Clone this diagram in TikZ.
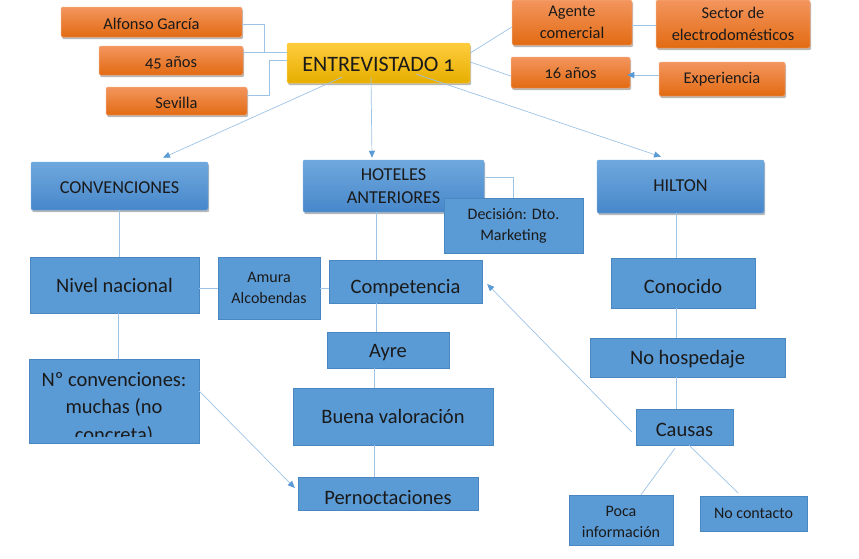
\documentclass[tikz,border=0pt]{standalone}
\usepackage{fontspec}
\setmainfont{Carlito}[Numbers=OldStyle]
\usetikzlibrary{arrows.meta,shadows,calc}
\definecolor{lnblue}{HTML}{9DC3E6}
\definecolor{arblue}{HTML}{5B9BD5}
\definecolor{flatblue}{HTML}{5B9BD5}
\definecolor{flatedge}{HTML}{4A86C0}
\definecolor{gbtop}{HTML}{6FA8DD}
\definecolor{gbbot}{HTML}{4787CA}
\definecolor{ortop}{HTML}{F3955E}
\definecolor{ormid}{HTML}{F47B2C}
\definecolor{orbot}{HTML}{E26B12}
\definecolor{oredge}{HTML}{F2A67A}
\definecolor{yetop}{HTML}{FFCC3D}
\definecolor{yemid}{HTML}{FFC000}
\definecolor{yebot}{HTML}{E6AE00}
\definecolor{txt}{HTML}{1A1A1A}
\newcommand\lowr[2]{\raisebox{-#1}[\height][\depth]{#2}}
\tikzset{
  base/.style={rectangle, inner sep=0pt, align=center, text=txt},
  shad/.style={drop shadow={shadow xshift=1.2pt, shadow yshift=-2.2pt, fill=black, opacity=0.28}},
  orbox/.style={base, shad, rounded corners=1.5pt, top color=ortop, middle color=ormid, bottom color=orbot, draw=oredge, line width=0.5pt, font=\fontsize{16.4}{22}\selectfont},
  yebox/.style={base, shad, rounded corners=1.5pt, top color=yetop, middle color=yemid, bottom color=yebot, draw=yetop, line width=0.5pt, font=\fontsize{22}{26}\selectfont},
  gbbox/.style={base, shad, rounded corners=2pt, top color=gbtop, bottom color=gbbot, draw=gbtop, line width=0.5pt, font=\fontsize{18.2}{23}\selectfont},
  flbox/.style={base, fill=flatblue, draw=flatedge, line width=0.4pt, font=\fontsize{20.5}{26}\selectfont},
  smbox/.style={flbox, font=\fontsize{16}{21}\selectfont},
  conn/.style={draw=lnblue, line width=0.7pt},
  arr/.style={conn, -{Triangle[length=7pt,width=6pt,color=arblue]}},
}
\begin{document}
\begin{tikzpicture}[x=1pt,y=-1pt]
\useasboundingbox (0,0) rectangle (859,558);
% orange / yellow
\node[orbox, minimum width=181, minimum height=30] (alf) at (151.5,22) {\lowr{2pt}{Alfonso García}};
\node[orbox, minimum width=144, minimum height=29] (a45) at (171,60.5) {\lowr{2pt}{45 años}};
\node[orbox, minimum width=141, minimum height=28] (sev) at (176.5,101) {\lowr{2pt}{Sevilla}};
\node[yebox, minimum width=183, minimum height=40] (ent) at (378.5,63) {\lowr{1pt}{ENTREVISTADO 1}};
\node[orbox, minimum width=120, minimum height=45] (age) at (572,22.5) {Agente\\comercial};
\node[orbox, minimum width=154, minimum height=48] (sec) at (733,24) {Sector de\\electrodomésticos};
\node[orbox, minimum width=119, minimum height=31] (a16) at (570.5,72.5) {\lowr{1pt}{16 años}};
\node[orbox, minimum width=126, minimum height=34] (exp) at (722,79) {Experiencia};
% blue headings
\node[gbbox, minimum width=177, minimum height=48] (conv) at (119.5,186) {\lowr{2pt}{CONVENCIONES}};
\node[gbbox, minimum width=181, minimum height=52] (hot) at (393.5,186) {HOTELES\\ANTERIORES};
\node[smbox, minimum width=139, minimum height=55] (dec) at (513.5,225.5) {Decisión: Dto.\\Marketing};
\node[gbbox, minimum width=167, minimum height=53] (hil) at (680.5,186.5) {\lowr{-1pt}{HILTON}};
% flat blue
\node[flbox, minimum width=169, minimum height=56] (niv) at (114.5,285) {Nivel nacional};
\node[smbox, minimum width=102, minimum height=62] (amu) at (269,288) {Amura\\Alcobendas};
\node[flbox, minimum width=153, minimum height=43] (com) at (405.5,281.5) {\lowr{7pt}{Competencia}};
\node[flbox, minimum width=144, minimum height=50] (con) at (683,283) {\lowr{3pt}{Conocido}};
\node[flbox, minimum width=195, minimum height=39] (noh) at (687.5,357.5) {\lowr{2pt}{No hospedaje}};
\node[flbox, minimum width=170, minimum height=84] (nco) at (114,401) {};
\begin{scope}
\clip (nco.north west) rectangle ([yshift=7pt]nco.south east);
\node[base, anchor=north, font=\fontsize{20.5}{27.6}\selectfont] (ncot) at ([yshift=-13pt]nco.north) {Nº convenciones:\\muchas (no\\concreta)};
\end{scope}
\node[flbox, minimum width=122, minimum height=36] (ayr) at (388,350) {\lowr{3pt}{Ayre}};
\node[flbox, minimum width=200, minimum height=57] (bue) at (393,416.5) {Buena valoración};
\node[flbox, minimum width=180, minimum height=33] (per) at (388,493.5) {\lowr{4pt}{Pernoctaciones}};
\node[flbox, minimum width=97, minimum height=36] (cau) at (684.5,427) {\lowr{2.5pt}{Causas}};
\node[smbox, minimum width=104, minimum height=50] (poc) at (621,520) {\lowr{3pt}{\begin{tabular}{@{}c@{}}Poca\\información\end{tabular}}};
\node[smbox, minimum width=107, minimum height=35] (noc) at (753.5,513.5) {No contacto};
% connectors top
\draw[conn] ([yshift=-2pt]alf.east) -- ++(22,0) |- ([yshift=11pt]ent.west);
\draw[conn] ([yshift=8.5pt]a45.east) -- ([yshift=11pt]ent.west);
\draw[conn] ([yshift=6pt]sev.east) -- ++(22,0) |- ([yshift=3pt]ent.west);
\draw[conn] ([yshift=10pt]ent.east) -- ([yshift=-4.5pt]age.west);
\draw[conn] ([yshift=1pt]ent.east) -- ([yshift=-3.5pt]a16.west);
\draw[conn] ([yshift=-2.5pt]age.east) -- ([yshift=-1pt]sec.west);
\draw[arr] ([yshift=4pt]exp.west) -- ([yshift=-2.5pt,xshift=-3pt]a16.east);
\draw[arr] ([xshift=-36.5pt,yshift=6pt]ent.south) -- ([xshift=43.5pt,yshift=4pt]conv.north);
\draw[arr] ([xshift=-7.5pt,yshift=6pt]ent.south) -- ([xshift=-21.5pt,yshift=2pt]hot.north);
\draw[arr] ([xshift=38pt,yshift=9pt]ent.south) -- ([xshift=-19.5pt,yshift=3pt]hil.north);
% middle
\draw[conn] ([yshift=9pt]hot.east) -| (dec.north);
\draw[conn] (conv.south) -- (conv.south |- niv.north);
\draw[conn] ([xshift=3.5pt]niv.south) -- ([xshift=3.5pt]niv.south |- nco.north);
\draw[conn] (amu.west -| niv.east) -- (amu.west);
\draw[conn] (amu.east) -- (amu.east -| com.west);
\draw[conn] ([xshift=-17.5pt]hot.south) -- ([xshift=-29.5pt]com.north);
\draw[conn] ([xshift=-29.5pt]com.south) -- ([xshift=-12pt]ayr.north);
\draw[conn] ([xshift=-14pt]ayr.south) -- ([xshift=-19pt]bue.north);
\draw[conn] ([xshift=-19pt]bue.south) -- ([xshift=-14pt]per.north);
\draw[arr] ([yshift=10pt]nco.east) -- ([yshift=5.5pt,xshift=-3pt]per.west);
\draw[conn] ([xshift=-4.5pt]hil.south) -- ([xshift=-7pt]con.north);
\draw[conn] ([xshift=-7pt]con.south) -- ([xshift=-11.5pt]noh.north);
\draw[conn] ([xshift=-11.5pt]noh.south) -- ([xshift=-8.5pt]cau.north);
\draw[arr] ([xshift=-4pt,yshift=-5pt]cau.west) -- ([xshift=5pt,yshift=-2.5pt]com.east);
\draw[conn] ([xshift=-9.5pt,yshift=-3pt]cau.south) -- ([xshift=20pt]poc.north);
\draw[conn] ([xshift=4.5pt]cau.south) -- ([xshift=-15.5pt,yshift=3pt]noc.north);
\end{tikzpicture}
\end{document}
